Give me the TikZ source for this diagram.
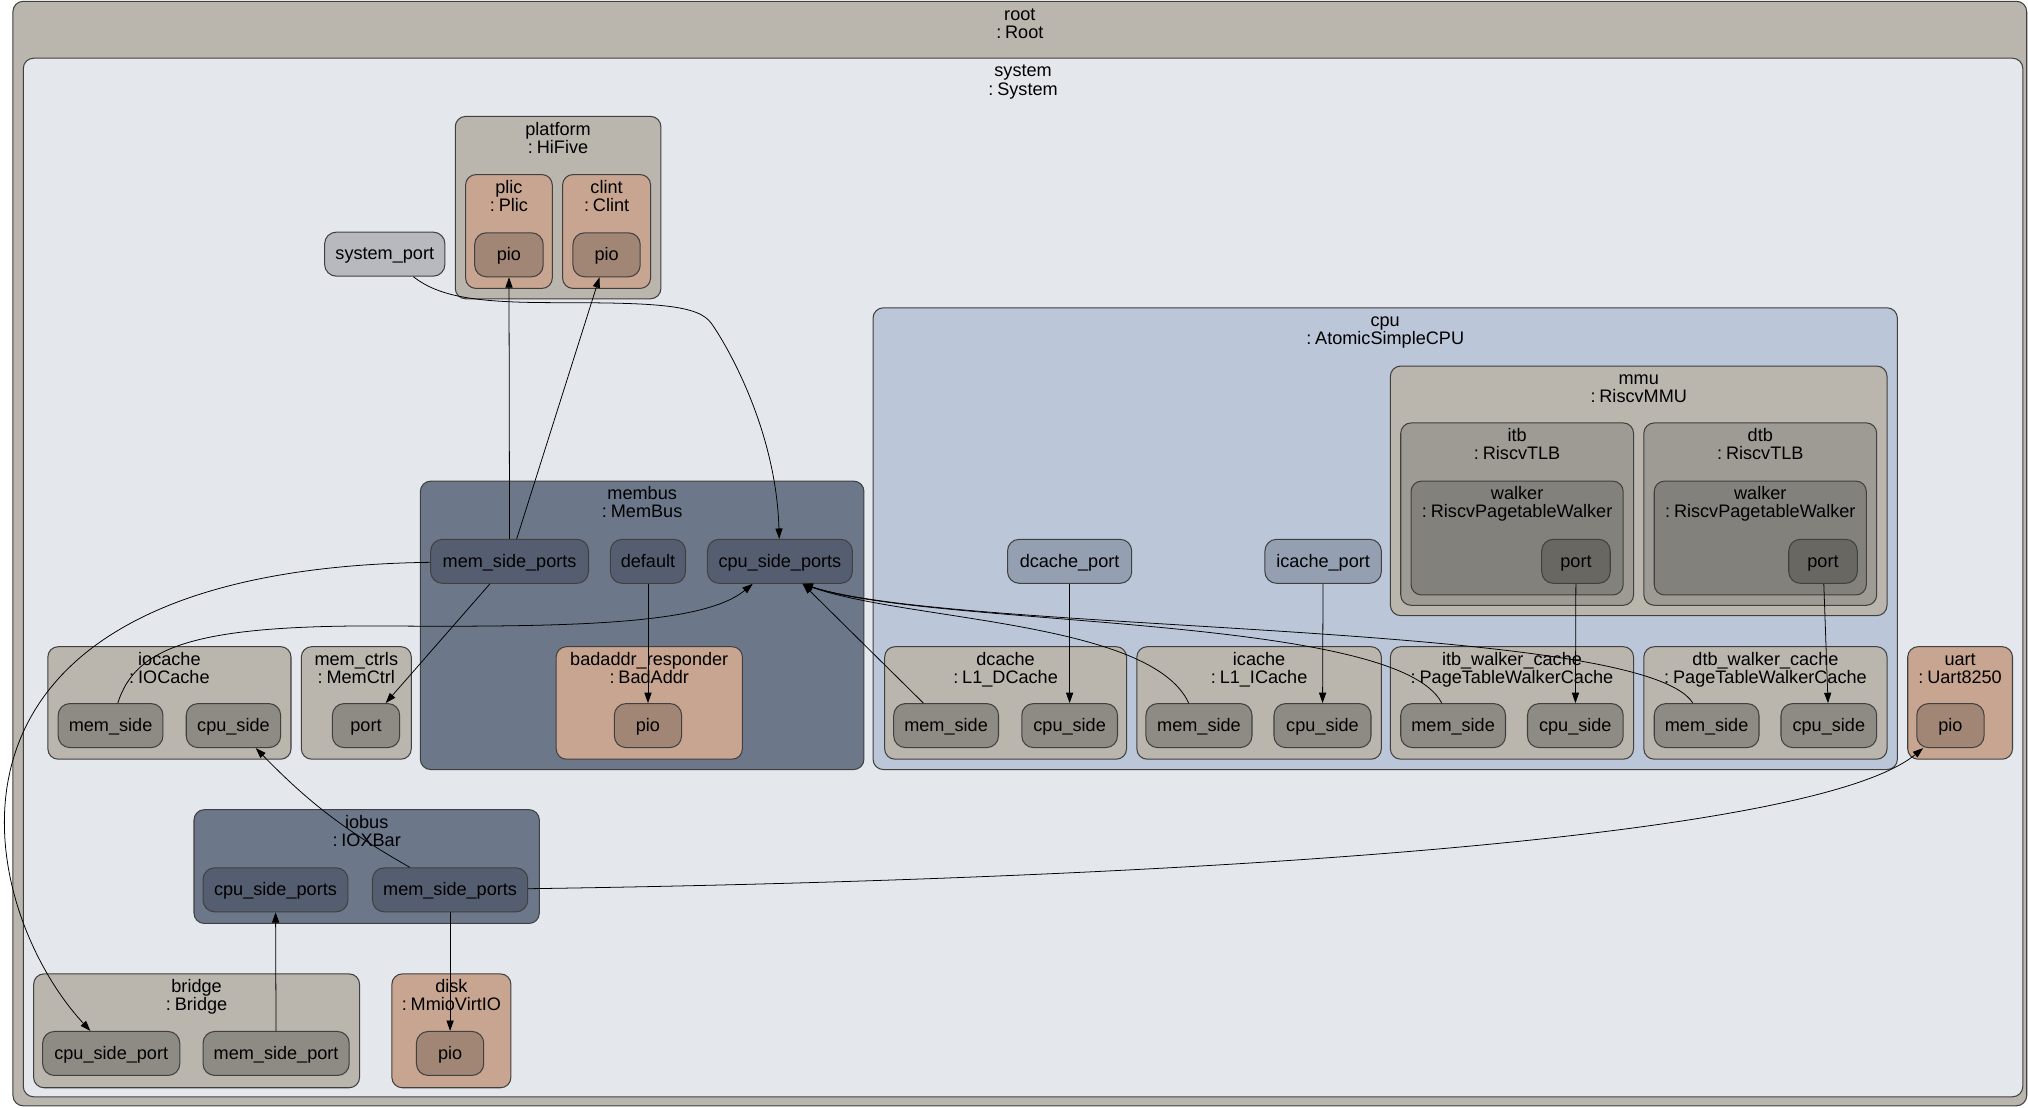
\documentclass[tikz,border=0pt]{standalone}
\usepackage{fontspec}
\setmainfont{Liberation Sans}
\usetikzlibrary{arrows.meta}

\definecolor{rootc}{RGB}{186,181,173}
\definecolor{sysc}{RGB}{228,231,236}
\definecolor{devc}{RGB}{200,165,144}
\definecolor{pioc}{RGB}{161,134,117}
\definecolor{sportc}{RGB}{183,185,191}
\definecolor{busc}{RGB}{108,119,137}
\definecolor{bportc}{RGB}{85,94,112}
\definecolor{cpuc}{RGB}{187,198,216}
\definecolor{cportc}{RGB}{148,160,178}
\definecolor{tlbc}{RGB}{158,155,148}
\definecolor{walkc}{RGB}{130,129,124}
\definecolor{wportc}{RGB}{104,103,98}
\definecolor{gportc}{RGB}{141,139,132}

\newcommand{\lbl}{\fontsize{14}{14}\selectfont}

\tikzset{
  cont/.style={draw=black!75, line width=0.8pt, rounded corners=8pt},
  ttl/.style={anchor=base, inner sep=0pt, font=\lbl},
  port/.style={draw=black!75, line width=0.8pt, rounded corners=9pt, fill=#1,
    minimum height=34pt, inner sep=0pt, text height=11pt, text depth=2pt, font=\lbl},
  wire/.style={line width=0.6pt, -{Triangle[length=8pt,width=5.5pt]}},
}

% cluster box: name, x1, y1, x2, y2, fill, instance, class
\newcommand{\compbox}[8]{%
  \draw[cont, fill=#6] (#2,#3) rectangle (#4,#5);
  \node[ttl] (#1-n) at ({(#2+#4)/2},#3+14.5) {#7};
  \node[ttl] (#1-t) at ({(#2+#4)/2},#3+28.5) {:\hspace{3pt}#8};}

\begin{document}
\begin{tikzpicture}[x=1pt, y=-1pt]
      \useasboundingbox (0,0) rectangle (1568,856);
      \fill[white] (0,0) rectangle (1568,856);

      \compbox{root}{10}{1}{1567}{855}{rootc}{root}{Root}
      \compbox{sys}{18}{45}{1564}{848}{sysc}{system}{System}
      \compbox{plat}{352}{90}{511}{231}{rootc}{platform}{HiFive}
      \compbox{plic}{360}{135}{427}{223}{devc}{plic}{Plic}
      \compbox{clint}{435}{135}{503}{223}{devc}{clint}{Clint}
      \compbox{membus}{325}{372}{668}{595}{busc}{membus}{MemBus}
      \compbox{bad}{430}{500}{574}{587}{devc}{badaddr\_responder}{BadAddr}
      \compbox{iocache}{37}{500}{225}{587}{rootc}{iocache}{IOCache}
      \compbox{memctrl}{233}{500}{318}{587}{rootc}{mem\_ctrls}{MemCtrl}
      \compbox{iobus}{150}{626}{417}{714}{busc}{iobus}{IOXBar}
      \compbox{bridge}{26}{753}{278}{841}{rootc}{bridge}{Bridge}
      \compbox{disk}{303}{753}{395}{841}{devc}{disk}{MmioVirtIO}
      \compbox{cpu}{675}{238}{1467}{595}{cpuc}{cpu}{AtomicSimpleCPU}
      \compbox{mmu}{1075}{283}{1459}{476}{rootc}{mmu}{RiscvMMU}
      \compbox{itb}{1083}{327}{1263}{468}{tlbc}{itb}{RiscvTLB}
      \compbox{itbw}{1091}{372}{1255}{460}{walkc}{walker}{RiscvPagetableWalker}
      \compbox{dtb}{1271}{327}{1451}{468}{tlbc}{dtb}{RiscvTLB}
      \compbox{dtbw}{1279}{372}{1443}{460}{walkc}{walker}{RiscvPagetableWalker}
      \compbox{dcache}{684}{500}{871}{587}{rootc}{dcache}{L1\_DCache}
      \compbox{icache}{879}{500}{1068}{587}{rootc}{icache}{L1\_ICache}
      \compbox{itbwc}{1075}{500}{1263}{587}{rootc}{itb\_walker\_cache}{PageTableWalkerCache}
      \compbox{dtbwc}{1271}{500}{1459}{587}{rootc}{dtb\_walker\_cache}{PageTableWalkerCache}
      \compbox{uart}{1475}{500}{1556}{587}{devc}{uart}{Uart8250}

      % ports
      \node[port=sportc, minimum width=93] (sysport) at (297.5,196.5) {system\_port};
      \node[port=pioc, minimum width=53] (plicpio) at (393.5,197) {pio};
      \node[port=pioc, minimum width=52] (clintpio) at (469,197) {pio};
      \node[port=bportc, minimum width=122] (mmsp) at (394,434) {mem\_side\_ports};
      \node[port=bportc, minimum width=58] (mdef) at (501,434) {default};
      \node[port=bportc, minimum width=112] (mcpu) at (603,434) {cpu\_side\_ports};
      \node[port=pioc, minimum width=52] (badpio) at (501,561) {pio};
      \node[port=gportc, minimum width=81] (iocms) at (85.5,561) {mem\_side};
      \node[port=gportc, minimum width=73] (iocpu) at (180.5,561) {cpu\_side};
      \node[port=gportc, minimum width=52] (mcport) at (283,561) {port};
      \node[port=bportc, minimum width=112] (iocpsp) at (213,688) {cpu\_side\_ports};
      \node[port=bportc, minimum width=120] (iomsp) at (348,688) {mem\_side\_ports};
      \node[port=gportc, minimum width=106] (brcpu) at (86,814.5) {cpu\_side\_port};
      \node[port=gportc, minimum width=113] (brmem) at (213.5,814.5) {mem\_side\_port};
      \node[port=pioc, minimum width=52] (diskpio) at (348,814.5) {pio};
      \node[port=cportc, minimum width=96] (dport) at (827,434) {dcache\_port};
      \node[port=cportc, minimum width=90] (iport) at (1023,434) {icache\_port};
      \node[port=wportc, minimum width=53] (itbport) at (1218.5,434) {port};
      \node[port=wportc, minimum width=53] (dtbport) at (1409.5,434) {port};
      \node[port=gportc, minimum width=81] (dcms) at (731.5,561) {mem\_side};
      \node[port=gportc, minimum width=74] (dccpu) at (827,561) {cpu\_side};
      \node[port=gportc, minimum width=82] (icms) at (927,561) {mem\_side};
      \node[port=gportc, minimum width=75] (iccpu) at (1022.5,561) {cpu\_side};
      \node[port=gportc, minimum width=81] (itbms) at (1123.5,561) {mem\_side};
      \node[port=gportc, minimum width=74] (itbcpu) at (1218,561) {cpu\_side};
      \node[port=gportc, minimum width=81] (dtbms) at (1319.5,561) {mem\_side};
      \node[port=gportc, minimum width=74] (dtbcpu) at (1414,561) {cpu\_side};
      \node[port=pioc, minimum width=52] (uartpio) at (1508,561) {pio};

      % connections
      \draw[wire] (sysport) .. controls (340,230) and (370,234) .. (430,234)
                            .. controls (510,234) and (540,236) .. (550,250)
                            .. controls (560,264) and (600,330) .. (mcpu);
      \path[wire] (mmsp) edge (plicpio) edge (clintpio) edge (mcport);
      \draw[wire] (mmsp) .. controls (-80,440) and (-20,700) .. (brcpu);
      \draw[wire] (mdef) -- (badpio);
      \draw[wire] (iocms) .. controls (105,500) and (150,483) .. (300,484)
                          .. controls (450,485) and (545,482) .. (mcpu);
      \draw[wire] (dcms) -- (mcpu);
      \draw[wire] (icms) .. controls (890,480) and (700,480) .. (mcpu.-45);
      \draw[wire] (itbms) .. controls (1080,475) and (720,485) .. (mcpu.-45);
      \draw[wire] (dtbms) .. controls (1270,480) and (740,490) .. (mcpu.-45);
      \path[wire] (dport) edge (dccpu);
      \path[wire] (iport) edge (iccpu);
      \path[wire] (itbport) edge (itbcpu);
      \path[wire] (dtbport) edge (dtbcpu);
      \draw[wire] (iomsp) to[bend left=8] (iocpu);
      \draw[wire] (iomsp) -- (diskpio);
      \draw[wire] (iomsp) .. controls (900,680) and (1400,650) .. (uartpio);
      \draw[wire] (brmem) -- (iocpsp);
\end{tikzpicture}
\end{document}
